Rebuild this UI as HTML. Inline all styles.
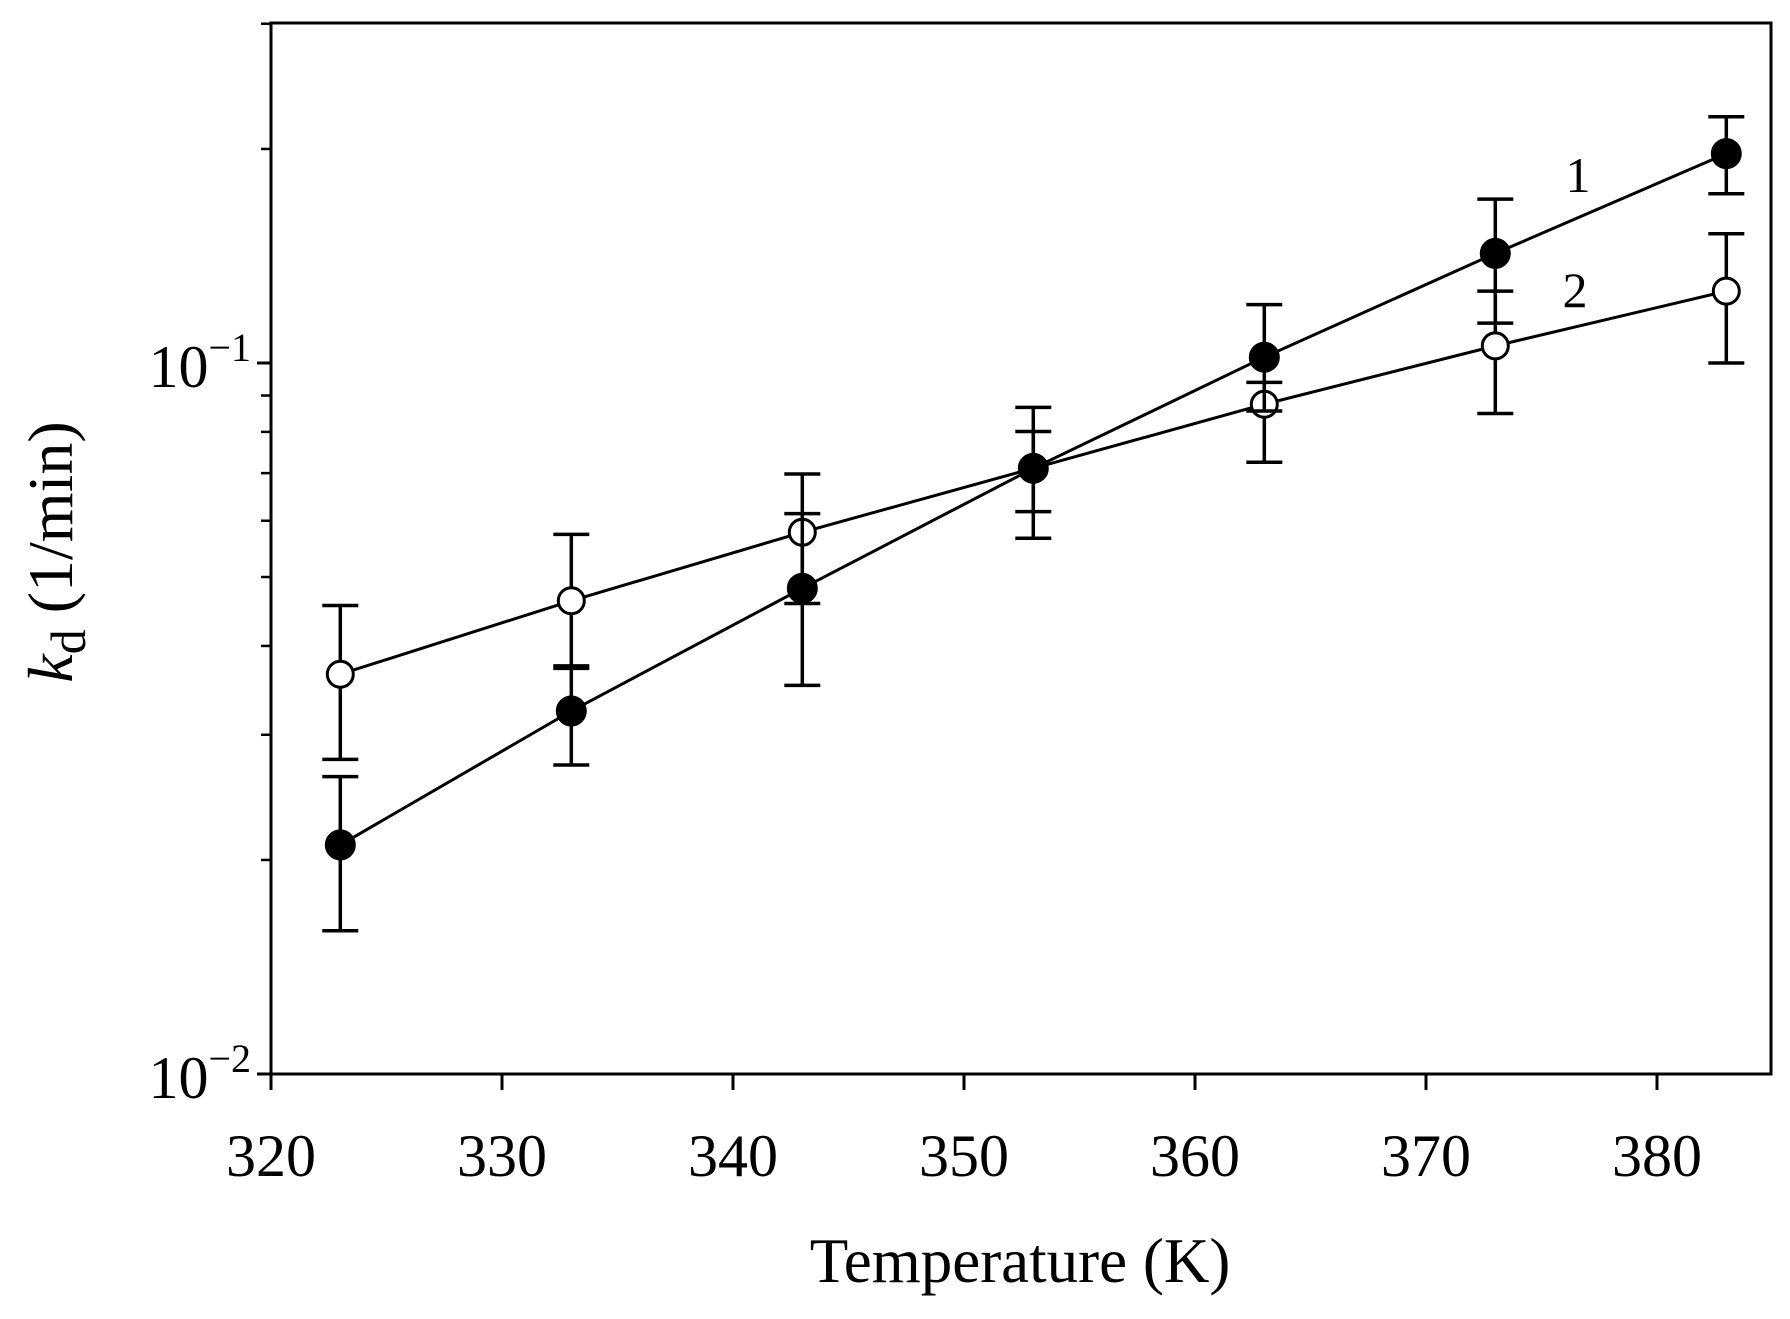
<!DOCTYPE html>
<html><head><meta charset="utf-8"><style>
html,body{margin:0;padding:0;background:#fff;}
svg{display:block;}
text{font-family:"Liberation Serif",serif;fill:#000;}
</style></head><body>
<svg id="chart" width="1790" height="1319" viewBox="0 0 1790 1319" xmlns="http://www.w3.org/2000/svg">
<g id="axes"></g>
<g id="series"></g>
<text x="1578" y="192" font-size="50" text-anchor="middle">1</text>
<text x="1575" y="307" font-size="50" text-anchor="middle">2</text>
<text x="1020" y="1282" font-size="63" text-anchor="middle">Temperature (K)</text>
<text transform="translate(72,552) rotate(-90)" font-size="64" text-anchor="middle"><tspan font-style="italic">k</tspan><tspan font-size="50" dy="13">d</tspan><tspan dy="-13"> (1/min)</tspan></text>
</svg>
<script>
const temps = [323, 333, 343, 353, 363, 373, 383];
const s1Values = [0.0210, 0.0324, 0.0482, 0.0711, 0.1019, 0.1426, 0.197];
const s1Upper = [0.0262, 0.0372, 0.0614, 0.0866, 0.1208, 0.170, 0.222];
const s1Lower = [0.0159, 0.0272, 0.0352, 0.0567, 0.0856, 0.1138, 0.173];
const s2Values = [0.0365, 0.0463, 0.0578, 0.0711, 0.0875, 0.1057, 0.1262];
const s2Upper = [0.0456, 0.0574, 0.0698, 0.0801, 0.0939, 0.1262, 0.152];
const s2Lower = [0.0277, 0.0375, 0.0459, 0.0618, 0.0725, 0.0849, 0.100];
const xTicks = [320, 330, 340, 350, 360, 370, 380];

const NS = "http://www.w3.org/2000/svg";
const L = 271, R = 1771, T = 23, B = 1074;
function xs(t){ return 271 + (t - 320) * (1657 - 271) / 60; }
function ys(v){ return 1074 - (Math.log10(v) + 2) * 711; }
function mk(tag, attrs, parent){
  const e = document.createElementNS(NS, tag);
  for (const k in attrs) e.setAttribute(k, attrs[k]);
  parent.appendChild(e);
  return e;
}
const axes = document.getElementById('axes');
const series = document.getElementById('series');
let e;
e = mk('rect', {x:L, y:T, width:R-L, height:B-T, fill:'none', stroke:'#000', 'stroke-width':3}, axes);


xTicks.forEach(t => {
  const x = xs(t);
  const tk = mk('line', {x1:x, y1:B, x2:x, y2:B+16, stroke:'#000', 'stroke-width':3}, axes);
  
  
  const lb = mk('text', {x:x, y:B+102, 'font-size':60, 'text-anchor':'middle'}, axes);
  lb.textContent = t;
  
  
});
[[-1, 'y-tick-label-0.1'], [-2, 'y-tick-label-0.01']].forEach(([p, nm]) => {
  const y = ys(Math.pow(10, p));
  const tk = mk('line', {x1:L-14, y1:y, x2:L, y2:y, stroke:'#000', 'stroke-width':3}, axes);
  
  
  const lb = mk('text', {x:L-20, y:y+24, 'font-size':60, 'text-anchor':'end'}, axes);
  lb.innerHTML = '10<tspan font-size="40" dy="-26">−' + (-p) + '</tspan>';
  
  
});
for (let d = -2; d <= -1; d++) {
  for (let m = 2; m <= 9; m++) {
    const v = m * Math.pow(10, d);
    const y = ys(v);
    if (y < T) continue;
    const tk = mk('line', {x1:L-10, y1:y, x2:L, y2:y, stroke:'#000', 'stroke-width':2.5}, axes);
    
    
  }
}
function drawSeries(vals, up, lo, filled, name){
  const g = mk('g', {}, series);
  
  
  const pts = temps.map((t, i) => xs(t) + ',' + ys(vals[i])).join(' ');
  const pl = mk('polyline', {points:pts, fill:'none', stroke:'#000', 'stroke-width':3}, g);
  
  
  temps.forEach((t, i) => {
    const x = xs(t), y1 = ys(up[i]), y2 = ys(lo[i]);
    const eb = mk('path', {d:'M'+x+','+y1+'V'+y2+'M'+(x-18)+','+y1+'H'+(x+18)+'M'+(x-18)+','+y2+'H'+(x+18), stroke:'#000', 'stroke-width':3.5, fill:'none'}, g);
    
    
  });
  temps.forEach((t, i) => {
    const c = mk('circle', {cx:xs(t), cy:ys(vals[i]), r:filled?14:13, fill:filled?'#000':'#fff', stroke:'#000', 'stroke-width':3}, g);
    
    
  });
}
drawSeries(s2Values, s2Upper, s2Lower, false, 'series-2');
drawSeries(s1Values, s1Upper, s1Lower, true, 'series-1');
</script>
</body></html>
